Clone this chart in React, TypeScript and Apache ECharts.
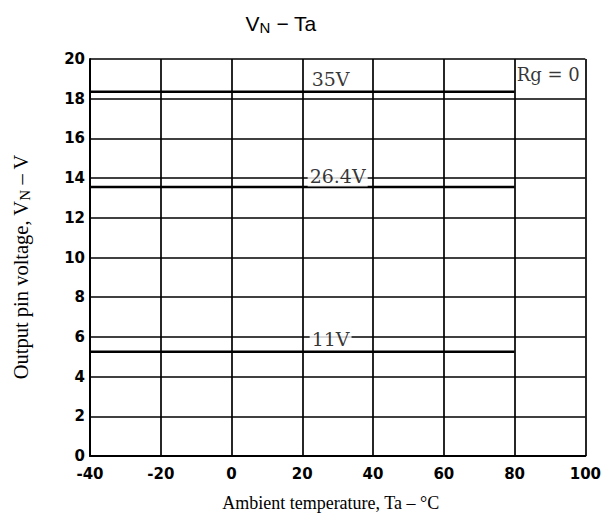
import React, { useEffect, useRef } from "react";
import * as echarts from "echarts";

const temps = [-40, 80];
const v35 = [18.35, 18.35];
const v264 = [13.55, 13.55];
const v11 = [5.25, 5.25];

const curveLabels = ["35V", "26.4V", "11V"];
const labelTa = [28, 30, 28];
const labelV = [19.0, 14.1, 5.9];

const noteText = "Rg = 0";
const noteTa = [89.5];
const noteV = [19.2];

const xTicks = [-40, -20, 0, 20, 40, 60, 80, 100];
const yTicks = [0, 2, 4, 6, 8, 10, 12, 14, 16, 18, 20];

const yName = "Output pin voltage, V{sub|N} – V";

export default function App() {
  const ref = useRef<HTMLDivElement>(null);
  useEffect(() => {
    if (!ref.current) return;
    const chart = echarts.init(ref.current, null, { renderer: "svg" });
    const mk = (vals: number[]) => temps.map((t, i) => [t, vals[i]]);
    const lineSeries = [v35, v264, v11].map((vals) => ({
      type: "line",
      data: mk(vals),
      showSymbol: false,
      symbol: "none",
      lineStyle: { color: "#000", width: 2.6 },
      z: 3,
    }));
    chart.setOption({
      animation: false,
      backgroundColor: "#fff",
      title: {
        text: "V{sub|N} − Ta",
        left: 276,
        top: 6,
        textAlign: "center",
        textStyle: {
          fontFamily: "Liberation Sans",
          fontSize: 21,
          fontWeight: "normal",
          color: "#000",
          rich: {
            sub: {
              fontFamily: "Liberation Sans",
              fontSize: 15,
              color: "#000",
              verticalAlign: "bottom",
              padding: [9, 0, 0, 0],
            },
          },
        },
      },
      graphic: [
        {
          type: "text",
          x: 21,
          y: 267,
          rotation: Math.PI / 2,
          style: {
            text: yName,
            align: "center",
            verticalAlign: "middle",
            fontFamily: "Liberation Serif",
            fontSize: 20.5,
            fill: "#000",
            rich: {
              sub: {
                fontFamily: "Liberation Serif",
                fontSize: 15,
                fill: "#000",
                verticalAlign: "bottom",
                padding: [7, 0, 0, 0],
              },
            },
          },
        },
      ],
      grid: { left: 90, right: 16, top: 59, bottom: 58, containLabel: false },
      xAxis: {
        type: "value",
        min: xTicks[0],
        max: xTicks[xTicks.length - 1],
        interval: 20,
        name: "Ambient temperature, Ta – °C",
        nameLocation: "middle",
        nameGap: 38,
        nameTextStyle: {
          fontFamily: "Liberation Serif",
          fontSize: 18,
          color: "#000",
          padding: [0, 14, 0, 0],
        },
        axisLine: { show: true, onZero: false, lineStyle: { color: "#000", width: 2 } },
        axisTick: { show: false },
        axisLabel: {
          color: "#000",
          fontFamily: "DejaVu Sans",
          fontWeight: "bold",
          fontSize: 15,
          margin: 10,
        },
        splitLine: { show: true, lineStyle: { color: "#000", width: 1.7 } },
      },
      yAxis: {
        type: "value",
        min: yTicks[0],
        max: yTicks[yTicks.length - 1],
        interval: 2,
        axisLine: { show: true, onZero: false, lineStyle: { color: "#000", width: 2 } },
        axisTick: { show: false },
        axisLabel: {
          color: "#000",
          fontFamily: "DejaVu Sans",
          fontWeight: "bold",
          fontSize: 15,
          margin: 5,
          padding: [6, 0, 0, 0],
        },
        splitLine: { show: true, lineStyle: { color: "#000", width: 1.7 } },
      },
      series: [
        ...lineSeries,
        {
          type: "scatter",
          symbolSize: 0,
          z: 5,
          data: curveLabels.map((n, i) => ({ name: n, value: [labelTa[i], labelV[i]] })),
          label: {
            show: true,
            position: "inside",
            formatter: "{b}",
            color: "#000",
            fontFamily: "DejaVu Serif",
            fontSize: 19,
            backgroundColor: "#fff",
            padding: [1, 2],
          },
        },
        {
          type: "scatter",
          symbolSize: 0,
          z: 5,
          data: noteTa.map((t, i) => ({ name: noteText, value: [t, noteV[i]] })),
          label: {
            show: true,
            position: "inside",
            formatter: "{b}",
            color: "#000",
            fontFamily: "DejaVu Serif",
            fontSize: 18,
          },
        },
      ],
    });
    return () => chart.dispose();
  }, []);
  return (
    <div
      ref={ref}
      style={{ width: 604, height: 517, position: "absolute", left: 0, top: 0 }}
    />
  );
}
